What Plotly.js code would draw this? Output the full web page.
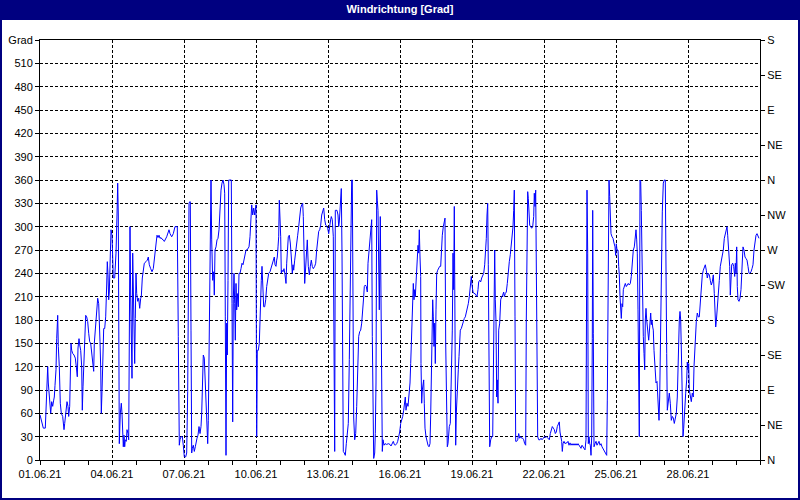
<!DOCTYPE html>
<html>
<head>
<meta charset="utf-8">
<script src="https://cdn.plot.ly/plotly-3.0.1.min.js"></script>
<style>
html,body{margin:0;padding:0;background:#ffffff;}
#chart{width:800px;height:500px;}
</style>
</head>
<body>
<div id="chart"></div>
<script>
// Hours since 01.06.21 00:00 and wind direction in degrees
const hours = [
0,1.3,3.3,5.3,6,6.7,7.7,8.3,9.3,10.7,11.7,12.7,13.7,14.3,15,16,16.7,17.7,18.3,19.3,20.3,21.3,22.7,24,24.7,26,27,28,28.7,29.7,30.3,31,31.7,32.7,34,35.3,36.3,37.3,38,39,39.7,40.7,41.7,42.3,43,44,45,45.7,46.7,47.7,48.7,49.7,50.7,51.7,52.7,53.7,54.3,55.7,56.7,57.7,58.7,59.3,60,60.7,61.3,62,62.7,63.7,64.7,65.7,66.7,67.3,68,68.7,69.3,70.3,71,72,72.7,73.3,74.7,75.3,76,77,77.7,78.3,79,79.3,80.3,81.3,82,82.7,83.3,84,84.7,85.3,86.3,87,88,88.7,89.3,90,90.7,91.3,92,92.7,93.3,94,94.7,95.3,96,96.7,97.7,98.7,99.7,100.7,101.3,102.3,103.3,104.3,106,107.3,108.3,109.3,110.7,112,113.3,114.3,115,116,117,118,119,120,121,122,123.3,124.3,125.3,
126.7,129,130,131.7,133.3,135,137.3,138.3,139.3,140,141,142.3,143.3,144.3,145.7,146.7,147.7,148.3,149,149.7,150.3,151,151.7,152.3,153.3,154.3,155.3,156,157,158,159,160,161,161.7,162.3,163.3,164.3,165,166,167,167.7,168.3,169,169.7,170.3,171,171.7,172.7,173.7,174.3,175,176,177,178,179,180,181,182,183,184,184.7,185.3,186,186.7,187.3,188,188.7,189.7,190.7,191.3,192,192.7,193.3,194,194.7,195.3,196,196.7,197.3,198.3,199,200,201,202,203,204,205,206,207,208,209,210,210.7,211.7,212.7,213.7,214.7,215.3,216,216.3,216.7,217,217.3,218.3,219.3,220,220.7,221.3,222,222.7,223.7,224.7,225.7,226.7,227.7,228.7,230,231.7,233.3,234.3,235,236,236.7,237.3,238,238.7,239.3,240,240.7,241.3,242,243,244,245,
246,246.7,247.3,248.3,249.3,250.3,251.3,252.3,253,253.7,254.7,255.7,256.7,257.7,258.7,259.7,260.7,261.7,262.7,263.3,264,264.7,265.3,266.3,267.3,268.3,269.3,270.3,271.3,272.3,273.3,274.7,275.7,276.7,277.7,278.7,279.7,280.7,281.7,282.7,283.7,284.7,285.7,286.7,287.7,288.7,289.3,290.3,291.3,292.3,293.3,294,294.7,295.3,296,297,298,298.7,299.3,300.3,301.3,302,302.7,303.3,304.3,305.3,306.3,307.3,308.3,309.3,310.3,311,311.7,312.3,313,313.7,314.7,315.7,316.7,317.7,318.7,319.7,320.7,321.7,322.7,323.7,324.3,325.3,326.3,327.3,328,329,330,331,331.7,332.3,333,333.7,334.7,335.3,336,336.7,337.3,338,338.7,339.3,340.3,341,341.7,342.3,343,344,345,346.7,348.3,350,351,352,353.3,354.3,355.3,356.7,357.7,358.7,359.7,360.7,361.7,362.7,363.7,364.7,365.3,366,367,368,369,370,370.7,371.3,372,372.7,373.3,374,374.7,
375.3,376,376.7,377.3,378,378.7,379.3,380,380.7,381,381.7,382.3,383,383.7,384.3,385,386,387,388,389,390,390.7,391.3,392,392.7,393.3,394,394.7,395.3,396,396.7,397.7,398.7,399.7,400.7,401.3,402.3,403.3,404.3,405,405.7,406.3,407.3,408,408.7,409.3,410.3,411,411.7,412.3,413,413.7,414.3,415,415.7,416.3,417,417.7,418.3,419,419.7,420.3,421.3,422.3,423.3,424.3,425.3,426.3,427.3,428.3,429.3,430.3,431.3,432,433,434,435,436,437,438,438.7,439.7,440.7,441.7,442.7,443.7,444.7,445.7,446.3,447,447.7,448.3,449,449.7,450.7,451.7,452.7,453.3,454,454.7,455.3,456,456.7,457.3,458,458.7,459.7,460.7,461.7,462.7,463.7,464.3,465.3,466.3,467.3,468.3,469.3,470.3,471,472,473,473.7,474.3,475,475.7,476.7,477.7,478.7,479.7,480.7,481.7,482.7,483.7,484.7,485.7,486.3,487,487.7,488.3,489,489.7,490.7,491.7,492.7,493.7,494.3,495,495.7,496.3,497,497.7,498.7,
499,500,501,502,503.3,504.3,505.3,506.3,507.3,508.3,509.3,510.3,511.3,512.3,513.3,514.3,515.3,516.3,517.3,518.3,519.3,520,520.7,521.7,522.3,523,524,525,526,527,528,529,530,531,532,533,534,535,536,537,538,539,540,541,542,543,544,545,546,546.7,547,547.7,548.3,549,549.7,550.3,551,551.7,552.3,552.7,553.3,554,555,556,557,558,559,560,561,562,563,564,565,566,566.7,567.3,568,568.7,569,569.7,570.3,571,572,573,574,575,575.7,576.3,577,578,578.7,579.3,580,580.7,581.3,582,582.7,583.3,584.3,585.3,586.3,587.3,588.3,589.3,590.3,591.3,592.3,593.3,594.3,595.3,596,596.7,597.3,598,598.7,599.3,600,600.7,601.3,602,602.7,603.3,604,604.7,605.3,606,606.7,607.7,608.7,609.7,610.7,611.3,612,612.7,613.3,614,614.7,
615,616,617,617.7,618.3,619,619.7,620.3,621,621.7,622.3,623.3,624.3,625.3,626,626.7,627.3,628.3,629.3,630.3,631.3,632.3,633.3,634.3,635.3,636.3,637.3,638.3,639.3,640,640.7,641.7,642.3,643,643.7,644.3,645,645.7,646.7,647.3,648,648.7,649.3,650.3,651.3,652.3,653.3,654,654.7,655.3,656.3,657.3,658.3,659.3,660.3,661.3,662.3,663.3,664.3,665.3,666.3,667.3,668.3,669.3,670.3,671.3,672.3,673.3,674.3,675,675.7,676.3,677.3,678.3,679.3,680.3,681.3,682.3,683.3,684.3,685.3,686.3,687,687.7,688.7,689.7,690.3,691,691.7,692.7,693.7,694.7,695.3,696,696.7,697.3,698,699,700,701,702,703,704,705,706,707,708,709,710,711,712,713,714,715,716,717,718,719
];
const grad = [
58,51,41,41,60,99,120,99,77,60,75,69,77,81,96,116,156,186,146,120,73,60,56,39,47,69,75,69,56,69,118,150,141,137,135,131,120,107,144,156,148,141,120,64,94,129,156,186,184,178,163,152,150,137,122,114,150,180,197,208,201,186,152,120,60,88,141,169,169,184,225,255,238,206,216,270,296,289,257,234,234,249,266,315,356,315,189,21,60,73,60,30,17,32,17,26,24,39,34,26,163,300,210,174,105,266,229,171,124,182,240,214,204,208,195,208,210,234,249,253,255,257,261,251,246,242,246,257,268,283,289,286,289,285,286,284,283,281,283,
287,296,291,287,291,300,300,159,19,26,30,30,19,4,4,9,88,249,330,332,332,167,9,15,19,11,17,24,28,32,43,34,43,60,99,135,131,103,81,47,21,51,141,279,334,360,283,231,242,212,270,274,283,285,296,324,347,356,360,354,343,184,6,176,135,231,360,360,360,360,201,49,206,240,201,154,227,193,214,197,240,240,246,253,251,257,266,270,270,272,274,287,313,328,315,324,315,324,328,180,30,81,141,141,150,193,197,231,249,219,197,197,206,223,236,240,242,249,257,261,251,249,257,261,274,287,334,313,287,240,244,242,246,238,
227,253,274,287,289,279,261,240,251,244,257,266,276,289,300,315,324,328,330,313,270,227,240,270,283,249,238,249,257,249,246,249,253,270,287,294,296,302,315,321,324,309,302,301,298,291,300,306,313,309,287,163,11,321,321,321,315,300,306,339,349,266,94,11,9,6,21,36,47,129,236,283,360,360,212,54,26,34,69,120,159,165,167,176,189,210,223,225,223,216,253,270,287,300,309,159,77,2,9,34,99,347,334,321,274,193,313,236,81,11,26,19,21,20,21,20,18,21,24,20,19,21,24,30,36,47,51,56,64,79,81,64,73,69,86,99,124,150,184,197,227,206,219,
210,227,249,249,276,266,296,261,236,124,73,90,99,103,73,41,30,24,19,17,21,58,124,180,206,184,146,176,124,193,240,244,246,249,249,266,289,300,306,311,150,90,17,21,34,43,47,90,90,167,266,219,326,90,19,60,90,90,116,133,159,167,169,174,178,182,184,189,193,201,210,223,236,225,216,214,214,212,210,219,229,231,229,234,238,240,251,268,285,315,330,251,94,17,26,30,30,90,210,270,206,178,81,103,73,167,176,206,210,212,216,210,214,216,227,244,255,264,274,285,300,321,347,184,24,24,26,34,28,30,28,28,26,21,19,180,291,345,336,315,302,300,298,300,313,343,326,347,274,116,30,26,
26,26,28,26,28,30,29,30,29,28,26,34,41,43,41,39,34,36,43,47,49,36,32,24,11,21,24,21,22,22,24,19,22,19,21,19,21,19,21,19,21,19,17,15,19,17,15,13,26,180,347,266,21,30,21,19,6,30,156,321,163,17,21,24,19,21,24,19,21,17,15,13,11,9,6,77,270,313,360,339,304,291,287,285,279,274,263,278,270,270,249,238,210,197,182,201,197,219,225,227,223,225,227,225,227,236,257,270,274,283,296,283,266,193,99,30,360,358,321,240,180,159,137,116,180,195,180,163,154,171,189,174,180,171,167,141,120,
118,99,101,81,58,51,81,141,216,270,319,356,360,360,285,137,64,81,86,73,51,56,54,47,54,60,81,141,180,191,180,120,77,30,41,60,77,86,103,126,116,124,90,81,75,86,81,120,146,148,178,189,184,184,204,229,238,244,249,251,244,234,240,238,231,225,229,238,214,189,171,178,201,214,231,249,255,261,270,285,291,296,300,289,270,249,212,236,251,253,249,236,253,240,274,223,206,204,208,219,253,274,270,261,259,257,249,240,240,242,246,251,270,283,289,291,287,285
];

const startDate = '2021-06-01 00:00:00';
const endDate = '2021-07-01 00:00:00';
const dateTickVals = ['2021-06-01','2021-06-04','2021-06-07','2021-06-10','2021-06-13','2021-06-16','2021-06-19','2021-06-22','2021-06-25','2021-06-28'];
const dateTickText = ['01.06.21','04.06.21','07.06.21','10.06.21','13.06.21','16.06.21','19.06.21','22.06.21','25.06.21','28.06.21'];
const gradTickVals = [0,30,60,90,120,150,180,210,240,270,300,330,360,390,420,450,480,510,540];
const gradTickText = ['0','30','60','90','120','150','180','210','240','270','300','330','360','390','420','450','480','510','Grad'];
const compassVals = [0,45,90,135,180,225,270,315,360,405,450,495,540];
const compassText = ['N','NE','E','SE','S','SW','W','NW','N','NE','E','SE','S'];
const chartTitle = 'Windrichtung [Grad]';

const t0 = Date.UTC(2021,5,1);
const xDates = hours.map(h => new Date(t0 + Math.round(h*3600000)).toISOString().slice(0,19).replace('T',' '));

const font = {family:'Liberation Sans, Arial, sans-serif', size:11, color:'#000000'};
const navy = '#000080';

const traces = [
  {x:xDates, y:grad, type:'scatter', mode:'lines', line:{color:'#0000ff', width:1}, hoverinfo:'skip', showlegend:false},
  {x:[], y:[], type:'scatter', mode:'lines', yaxis:'y2', showlegend:false, hoverinfo:'skip'}
];

const layout = {
  width:800, height:500,
  margin:{l:40, r:40, t:40, b:40, pad:0},
  paper_bgcolor:'#ffffff', plot_bgcolor:'#ffffff',
  font:font,
  showlegend:false,
  title:{text:'<b>'+chartTitle+'</b>', font:{family:'Liberation Sans, Arial, sans-serif', size:11, color:'#ffffff'},
         x:0.5, xref:'container', xanchor:'center', y:0.981, yref:'container', yanchor:'middle'},
  xaxis:{
    type:'date', range:[startDate, endDate],
    tickmode:'array', tickvals:dateTickVals, ticktext:dateTickText,
    ticks:'outside', ticklen:4, tickcolor:'#000', tickwidth:1,
    minor:{tickmode:'linear', tick0:startDate, dtick:86400000, ticks:'outside', ticklen:4, tickcolor:'#000', showgrid:false},
    showgrid:true, gridcolor:'#000', gridwidth:1, griddash:'3px,2px',
    showline:true, linecolor:'#000', linewidth:1, mirror:true,
    zeroline:false, tickfont:font, fixedrange:true
  },
  yaxis:{
    range:[0,540], tickmode:'array', tickvals:gradTickVals, ticktext:gradTickText,
    ticks:'outside', ticklen:4, tickcolor:'#000',
    showgrid:true, gridcolor:'#000', gridwidth:1, griddash:'3px,2px',
    showline:true, linecolor:'#000', linewidth:1, mirror:true,
    zeroline:false, tickfont:font, fixedrange:true
  },
  yaxis2:{
    overlaying:'y', side:'right', range:[0,540],
    tickmode:'array', tickvals:compassVals, ticktext:compassText,
    ticks:'outside', ticklen:4, tickcolor:'#000',
    showgrid:false, showline:false, zeroline:false, tickfont:font, fixedrange:true
  },
  shapes:[
    {type:'rect', xref:'paper', yref:'paper', x0:-40/720, x1:1+40/720, y0:(460-20)/420, y1:460/420,
     fillcolor:navy, line:{width:0}, layer:'below'},
    {type:'rect', xref:'paper', yref:'paper', x0:-39/720, x1:1+39/720, y0:-39/420, y1:459/420,
     fillcolor:'rgba(0,0,0,0)', line:{color:navy, width:2}, layer:'below'}
  ]
};

Plotly.newPlot('chart', traces, layout, {displayModeBar:false, staticPlot:true});
</script>
</body>
</html>
